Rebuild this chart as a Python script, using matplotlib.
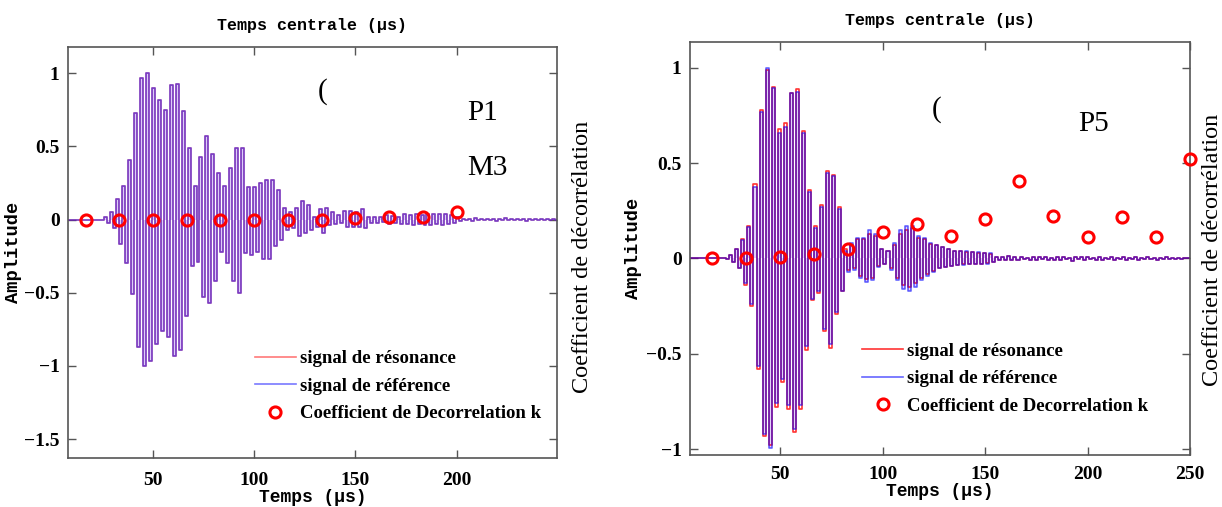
import numpy as np
import matplotlib
matplotlib.use("Agg")
import matplotlib.pyplot as plt
from matplotlib.ticker import FuncFormatter

plt.rcParams['font.family'] = ['Liberation Serif', 'DejaVu Serif']
plt.rcParams['font.weight'] = 'bold'

# peak amplitudes (top, bottom) of each cycle
half_step = 1.475  # us between a top and the next bottom

# left panel (P1 / M3): resonance and reference overlap
left_t0 = 26.5
left_pairs = [
    (0.02, -0.02), (0.05, -0.06),
    (0.14, -0.17), (0.23, -0.30), (0.41, -0.51), (0.73, -0.87), (0.97, -1.0),
    (1.0, -0.97), (0.90, -0.85), (0.82, -0.76), (0.75, -0.80), (0.92, -0.93),
    (0.93, -0.89), (0.74, -0.66), (0.49, -0.32), (0.23, -0.29), (0.43, -0.53),
    (0.57, -0.57), (0.45, -0.42), (0.32, -0.22), (0.23, -0.30), (0.35, -0.42),
    (0.49, -0.50), (0.49, -0.23), (0.22, -0.24), (0.22, -0.22), (0.25, -0.27),
    (0.27, -0.27), (0.27, -0.18), (0.20, -0.14), (0.08, -0.07), (0.05, -0.06),
    (0.08, -0.11), (0.125, -0.09), (0.10, -0.07), (0.02, -0.05), (0.07, -0.09),
    (0.08, -0.04), (0.05, -0.03), (0.03, -0.02), (0.06, -0.05), (0.06, -0.05),
    (0.05, -0.05), (0.07, -0.06), (0.02, -0.02), (0.015, -0.02), (0.02, -0.015),
    (0.03, -0.03), (0.025, -0.02), (0.02, -0.03), (0.035, -0.03), (0.03, -0.035),
    (0.04, -0.03), (0.03, -0.035), (0.035, -0.04), (0.04, -0.03), (0.035, -0.035),
    (0.04, -0.03), (0.03, -0.02), (0.02, -0.01),
    (0.006, -0.004), (0.004, -0.008), (0.008, -0.005), (0.003, -0.006),
    (0.007, -0.004), (0.005, -0.007), (0.004, -0.003), (0.008, -0.006),
    (0.003, -0.005), (0.006, -0.004), (0.004, -0.007), (0.007, -0.003),
    (0.005, -0.006), (0.003, -0.004), (0.006, -0.005), (0.004, -0.003),
]

# right panel (P5)
right_t0 = 23.0
right_ref_pairs = [
    (0.005, -0.005), (0.02, -0.02),
    (0.05, -0.05), (0.095, -0.13), (0.165, -0.24), (0.375, -0.565), (0.77, -0.92),
    (1.0, -0.995), (0.895, -0.76), (0.66, -0.63), (0.69, -0.77), (0.867, -0.895),
    (0.875, -0.77), (0.66, -0.46), (0.35, -0.21), (0.16, -0.17), (0.27, -0.37),
    (0.45, -0.45), (0.43, -0.28), (0.26, -0.17), (0.04, -0.07), (0.08, -0.06),
    (0.105, -0.10), (0.11, -0.125), (0.147, -0.115), (0.13, -0.045), (0.05, -0.03),
    (0.04, -0.06), (0.08, -0.115), (0.147, -0.16), (0.17, -0.17), (0.17, -0.15),
    (0.12, -0.115), (0.105, -0.09), (0.08, -0.07), (0.07, -0.05), (0.06, -0.045),
    (0.05, -0.04), (0.04, -0.035), (0.04, -0.035), (0.04, -0.03), (0.035, -0.03),
    (0.035, -0.03), (0.03, -0.03), (0.03, -0.02), (0.01, -0.01),
]
right_res_pairs = [
    (0.005, -0.005), (0.02, -0.02),
    (0.05, -0.05), (0.10, -0.14), (0.17, -0.25), (0.39, -0.58), (0.78, -0.93),
    (0.99, -0.98), (0.90, -0.78), (0.68, -0.65), (0.71, -0.79), (0.87, -0.91),
    (0.89, -0.79), (0.67, -0.48), (0.36, -0.22), (0.17, -0.18), (0.28, -0.38),
    (0.46, -0.47), (0.44, -0.29), (0.27, -0.17), (0.05, -0.06), (0.07, -0.05),
    (0.10, -0.09), (0.10, -0.11), (0.13, -0.10), (0.12, -0.04), (0.05, -0.03),
    (0.04, -0.05), (0.07, -0.10), (0.13, -0.14), (0.15, -0.15), (0.16, -0.13),
    (0.11, -0.10), (0.10, -0.08), (0.075, -0.065), (0.07, -0.05), (0.06, -0.045),
    (0.05, -0.04), (0.04, -0.035), (0.04, -0.03), (0.035, -0.03), (0.035, -0.03),
    (0.03, -0.03), (0.03, -0.025), (0.025, -0.02), (0.01, -0.01),
]
right_tail_pairs = [
    (0.008, -0.006), (0.012, -0.008), (0.006, -0.01), (0.01, -0.005), (0.005, -0.008),
    (0.009, -0.006), (0.006, -0.004), (0.01, -0.008), (0.004, -0.006), (0.008, -0.01),
    (0.006, -0.005), (0.005, -0.012), (0.008, -0.004), (0.006, -0.007), (0.009, -0.005),
    (0.004, -0.006), (0.007, -0.008), (0.005, -0.004), (0.008, -0.006), (0.004, -0.005),
    (0.006, -0.008), (0.005, -0.004), (0.007, -0.006), (0.004, -0.005), (0.006, -0.004),
    (0.005, -0.006), (0.004, -0.003), (0.006, -0.005), (0.004, -0.004), (0.005, -0.003),
]

# decorrelation coefficient k
k_time_left = [16.7, 33.3, 50, 66.7, 83.3, 100, 116.7, 133.3, 150, 166.7, 183.3, 200]
k_left = [0, 0, 0, 0, 0, 0, 0, 0, 0.01, 0.02, 0.018, 0.053]
k_time_right = [16.7, 33.3, 50, 66.7, 83.3, 100, 116.7, 133.3, 150, 166.7, 183.3,
                200, 216.7, 233.3, 250]
k_right = [0, 0.005, 0.01, 0.025, 0.05, 0.14, 0.18, 0.12, 0.205, 0.405, 0.225,
           0.113, 0.22, 0.113, 0.52]


def zigzag(t0, pairs):
    vals = [v for p in pairs for v in p]
    t = t0 + half_step * np.arange(len(vals))
    t = np.concatenate([[0, t0 - half_step], t, [t[-1] + half_step, 260]])
    y = np.concatenate([[0, 0], vals, [0, 0]])
    return t, y


def fmt(v, pos):
    return ('%g' % v).replace('-', '\u2212')


mono = dict(family='Liberation Mono', weight='bold')

fig = plt.figure(figsize=(12.22, 5.07), dpi=100)
ax1 = fig.add_axes([0.0556, 0.0966, 0.4002, 0.8107])
ax2 = fig.add_axes([0.5646, 0.1026, 0.4092, 0.8146])

# left panel
t, y = zigzag(left_t0, left_pairs)
ax1.fill_between(t, y, 0, step='mid', color='#b490f0', alpha=0.45, lw=0)
ax1.plot(t, y, color='#ff2020', lw=1.2, alpha=0.6, drawstyle='steps-mid',
         label='signal de résonance')
ax1.plot(t, y, color='#2020ff', lw=1.2, alpha=0.6, drawstyle='steps-mid',
         label='signal de référence')
ax1.plot(k_time_left, k_left, 'o', ms=8, mfc='none', mec='red', mew=2.2,
         label='Coefficient de Decorrelation k', zorder=5)
ax1.set_xlim(8, 249.5)
ax1.set_ylim(-1.63, 1.18)
ax1.set_xticks([50, 100, 150, 200])
ax1.set_yticks([-1.5, -1, -0.5, 0, 0.5, 1])

# right panel
t_ref, y_ref = zigzag(right_t0, right_ref_pairs + right_tail_pairs)
t_res, y_res = zigzag(right_t0, right_res_pairs + right_tail_pairs)
ax2.fill_between(t_ref, y_ref, 0, step='mid', color='#b490f0', alpha=0.4, lw=0)
ax2.plot(t_res, y_res, color='red', lw=1.2, alpha=0.8, drawstyle='steps-mid',
         label='signal de résonance')
ax2.plot(t_ref, y_ref, color='blue', lw=1.2, alpha=0.6, drawstyle='steps-mid',
         label='signal de référence')
ax2.plot(k_time_right, k_right, 'o', ms=8, mfc='none', mec='red', mew=2.2,
         label='Coefficient de Decorrelation k', zorder=5, clip_on=False)
ax2.set_xlim(6, 250)
ax2.set_ylim(-1.03, 1.135)
ax2.set_xticks([50, 100, 150, 200, 250])
ax2.set_yticks([-1, -0.5, 0, 0.5, 1])

for ax, lx, ly, ylx, xpad in [(ax1, 0.382, 0.262, -0.093, 10),
                              (ax2, 0.344, 0.272, -0.096, 8)]:
    ax.yaxis.set_major_formatter(FuncFormatter(fmt))
    ax.tick_params(direction='in', top=True, right=True, length=6, width=1,
                   color='#555555', labelsize=14, pad=6)
    ax.tick_params(axis='x', pad=xpad)
    for s in ax.spines.values():
        s.set_color('#555555')
        s.set_linewidth(1.2)
    ax.set_title('Temps centrale (\u00b5s)', fontsize=12, pad=12, **mono)
    ax.set_xlabel('Temps (\u00b5s)', fontsize=13, labelpad=0, **mono)
    ax.set_ylabel('Amplitude', fontsize=13.5, **mono)
    ax.yaxis.set_label_coords(ylx, 0.5)
    ax.legend(loc='upper left', bbox_to_anchor=(lx, ly), frameon=False,
              borderpad=0, borderaxespad=0, handlelength=2.2, handletextpad=0.2,
              labelspacing=0.55, numpoints=1, prop=dict(family='Liberation Serif',
                                                        weight='bold', size=13.5))

# side labels and annotations
fig.text(583 / 1222, 1 - 257 / 507, 'Coefficient de décorrélation', rotation=90,
         ha='center', va='center', fontsize=17.5, weight='normal')
fig.text(1212 / 1222, 1 - 250 / 507, 'Coefficient de décorrélation', rotation=90,
         ha='center', va='center', fontsize=17.5, weight='normal')
fig.text(318 / 1222, 1 - 92 / 507, '(', fontsize=21, weight='normal', va='center')
fig.text(932 / 1222, 1 - 110 / 507, '(', fontsize=21, weight='normal', va='center')
fig.text(467 / 1222, 1 - 113 / 507, 'P1', fontsize=21, weight='normal', va='center')
fig.text(467 / 1222, 1 - 168 / 507, 'M3', fontsize=21, weight='normal', va='center')
fig.text(1078 / 1222, 1 - 124 / 507, 'P5', fontsize=21, weight='normal', va='center')

fig.savefig('out.png', dpi=100)
